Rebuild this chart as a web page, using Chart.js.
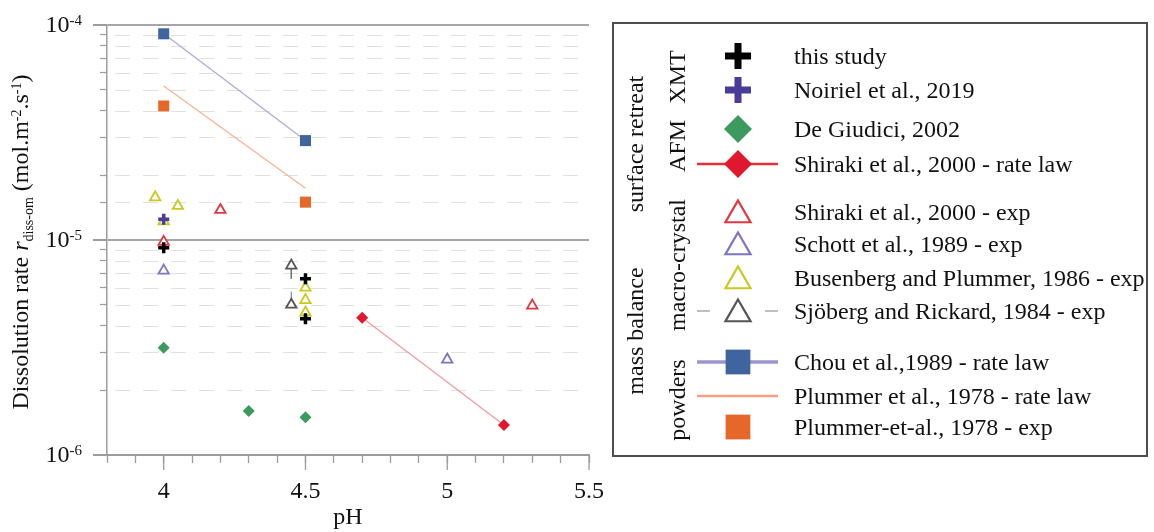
<!DOCTYPE html>
<html>
<head>
<meta charset="utf-8">
<script src="https://cdn.jsdelivr.net/npm/chart.js@4/dist/chart.umd.min.js"></script>
<style>
  html, body { margin: 0; padding: 0; background: #fff; }
  #wrap { position: relative; width: 1154px; height: 532px; overflow: hidden;
          font-family: 'Liberation Serif', 'Times New Roman', serif; color: #111; }
  #chart { position: absolute; left: 0; top: 0; }
  #legendBox { position: absolute; left: 612px; top: 22px; width: 536px; height: 435px;
               box-sizing: border-box; border: 2px solid #4d4d4d; }
  #legendMarks { position: absolute; left: 688px; top: 24px; }
  .lg-text { position: absolute; left: 794px; height: 28px; line-height: 28px; font-size: 24px;
             white-space: nowrap; }
  .lg-group { position: absolute; font-size: 24px; line-height: 28px; white-space: nowrap;
              transform: translate(-50%, -50%) rotate(-90deg); }
</style>
</head>
<body>
<div id="wrap">
  <canvas id="chart" width="1154" height="532"></canvas>
  <div id="legendBox"></div>
  <canvas id="legendMarks" width="100" height="432"></canvas>
</div>
<script>
// ---- axes ----
const phTicks = [3.8, 3.9, 4.0, 4.1, 4.2, 4.3, 4.4, 4.5, 4.6, 4.7, 4.8, 4.9, 5.0, 5.1, 5.2, 5.3, 5.4, 5.5];
const phLabelValues = [4, 4.5, 5, 5.5];
const phLabels = ['4', '4.5', '5', '5.5'];
const rateDecades = [1e-6, 1e-5, 1e-4];
const rateDecadeExponents = ['-6', '-5', '-4'];

// ---- series: pH and dissolution rate (mol.m-2.s-1) ----
const thisStudyPH = [4.0, 4.5, 4.5];
const thisStudyRate = [9.2e-6, 6.6e-6, 4.3e-6];

const noirielPH = [4.0];
const noirielRate = [1.25e-5];

const deGiudiciPH = [4.0, 4.3, 4.5];
const deGiudiciRate = [3.15e-6, 1.6e-6, 1.5e-6];

const shirakiLawPH = [4.7, 5.2];
const shirakiLawRate = [4.35e-6, 1.38e-6];

const shirakiExpPH = [4.0, 4.2, 5.3];
const shirakiExpRate = [9.8e-6, 1.38e-5, 4.95e-6];

const schottPH = [4.0, 5.0];
const schottRate = [7.2e-6, 2.78e-6];

const busenbergPH = [3.97, 4.05, 4.0, 4.5, 4.5, 4.5];
const busenbergRate = [1.58e-5, 1.44e-5, 1.22e-5, 6.0e-6, 5.25e-6, 4.6e-6];

const sjobergPH = [4.45, 4.45];
const sjobergRate = [7.6e-6, 5.0e-6];
const sjobergErrMinus = [1.0e-6, 0];
const sjobergErrPlus = [0, 0.75e-6];

const chouPH = [4.0, 4.5];
const chouRate = [9.1e-5, 2.9e-5];

const plummerLawPH = [4.0, 4.5];
const plummerLawRate = [5.2e-5, 1.74e-5];

const plummerExpPH = [4.0, 4.5];
const plummerExpRate = [4.2e-5, 1.5e-5];

const seriesNames = [
  'this study',
  'Noiriel et al., 2019',
  'De Giudici, 2002',
  'Shiraki et al., 2000 - rate law',
  'Shiraki et al., 2000 - exp',
  'Schott et al., 1989 - exp',
  'Busenberg and Plummer, 1986 - exp',
  'Sjöberg and Rickard, 1984 - exp',
  'Chou et al.,1989 - rate law',
  'Plummer et al., 1978 - rate law',
  'Plummer-et-al., 1978 - exp'
];

const groupLabels = ['surface retreat', 'XMT', 'AFM', 'macro-crystal', 'mass balance', 'powders'];

// ---- styling ----
const FONT = "'Liberation Serif', 'Times New Roman', serif";
const axisGray = '#9c9c9c';

const pts = (xs, ys) => xs.map((x, i) => ({ x: x, y: ys[i] }));

// one entry per legend row, in legend order
const styles = [
  { pts: pts(thisStudyPH, thisStudyRate), shape: 'cross', color: '#000000' },
  { pts: pts(noirielPH, noirielRate), shape: 'cross', color: '#4a3d99' },
  { pts: pts(deGiudiciPH, deGiudiciRate), shape: 'rectRot', color: '#3c9a5f' },
  { pts: pts(shirakiLawPH, shirakiLawRate), shape: 'rectRot', color: '#e0182d', line: '#f29a9e', legendLine: '#e5303c' },
  { pts: pts(shirakiExpPH, shirakiExpRate), shape: 'triangle', color: '#e2373f' },
  { pts: pts(schottPH, schottRate), shape: 'triangle', color: '#7d74c4' },
  { pts: pts(busenbergPH, busenbergRate), shape: 'triangle', color: '#c9c91e' },
  { pts: pts(sjobergPH, sjobergRate), shape: 'triangle', color: '#555555', errorBar: true },
  { pts: pts(chouPH, chouRate), shape: 'rect', color: '#40659e', line: '#aeaadb', legendLine: '#9b95cf' },
  { pts: pts(plummerLawPH, plummerLawRate), shape: null, color: '#f0a27c', line: '#f5b594', legendLine: '#f0a27c' },
  { pts: pts(plummerExpPH, plummerExpRate), shape: 'rect', color: '#e5672a' }
];

function pointOpts(shape, color) {
  if (shape === 'cross') return { pointStyle: 'cross', pointRadius: 5.5, pointBorderWidth: 3.5, pointBorderColor: color, pointBackgroundColor: color };
  if (shape === 'rectRot') return { pointStyle: 'rectRot', pointRadius: 6, pointBorderWidth: 0, pointBorderColor: color, pointBackgroundColor: color };
  if (shape === 'triangle') return { pointStyle: 'triangle', pointRadius: 6, pointBorderWidth: 1.8, pointBorderColor: color, pointBackgroundColor: '#ffffff' };
  if (shape === 'rect') return { pointStyle: 'rect', pointRadius: 7.8, pointBorderWidth: 0, pointBorderColor: color, pointBackgroundColor: color };
  return { pointRadius: 0 };
}

const datasets = [];
styles.forEach((s, i) => {
  datasets.push(Object.assign({
    label: seriesNames[i],
    data: s.pts,
    showLine: !!s.line,
    borderColor: s.line || s.color,
    borderWidth: s.line ? 1.3 : 0,
    backgroundColor: s.color
  }, pointOpts(s.shape, s.color)));
  if (s.errorBar) {
    // vertical error whiskers for this series
    sjobergPH.forEach((x, k) => {
      const y = sjobergRate[k];
      if (sjobergErrMinus[k] > 0) {
        datasets.push({ label: seriesNames[i] + ' error', data: [{ x: x, y: y }, { x: x, y: y - sjobergErrMinus[k] }],
          showLine: true, borderColor: '#707070', borderWidth: 1, pointRadius: 0 });
      }
      if (sjobergErrPlus[k] > 0) {
        datasets.push({ label: seriesNames[i] + ' error', data: [{ x: x, y: y }, { x: x, y: y + sjobergErrPlus[k] }],
          showLine: true, borderColor: '#707070', borderWidth: 1, pointRadius: 0 });
      }
    });
  }
});

const isDecade = v => Math.abs(Math.log10(v) - Math.round(Math.log10(v))) < 1e-6;

// y-axis title with italic symbol, subscript and superscripts
const yTitleParts = [
  { text: 'Dissolution rate ', kind: 'normal' },
  { text: 'r', kind: 'italic' },
  { text: 'diss-om', kind: 'sub' },
  { text: ' (mol.m', kind: 'normal' },
  { text: '-2', kind: 'sup' },
  { text: '.s', kind: 'normal' },
  { text: '-1', kind: 'sup' },
  { text: ')', kind: 'normal' }
];
function partFont(kind) {
  if (kind === 'italic') return 'italic 24px ' + FONT;
  if (kind === 'sub' || kind === 'sup') return '14px ' + FONT;
  return '24px ' + FONT;
}
function partShift(kind) {
  if (kind === 'sub') return 7;
  if (kind === 'sup') return -5;
  return 0;
}

const axisDecor = {
  id: 'axisDecor',
  beforeDatasetsDraw(chart) {
    const { ctx, chartArea: a, scales: { y } } = chart;
    ctx.save();
    ctx.strokeStyle = '#e0e0e0';
    ctx.lineWidth = 1;
    ctx.setLineDash([15, 13]);
    y.ticks.forEach(t => {
      if (isDecade(t.value)) return;
      const py = Math.round(y.getPixelForValue(t.value)) + 0.5;
      ctx.beginPath();
      ctx.moveTo(a.left + 8, py);
      ctx.lineTo(a.right, py);
      ctx.stroke();
    });
    ctx.restore();
  },
  afterDraw(chart) {
    const { ctx, chartArea: a, scales: { x, y } } = chart;
    ctx.save();
    ctx.strokeStyle = axisGray;
    // longer ticks at decades and labelled pH values
    ctx.lineWidth = 2;
    rateDecades.forEach(v => {
      const py = y.getPixelForValue(v);
      ctx.beginPath(); ctx.moveTo(a.left - 14, py); ctx.lineTo(a.left, py); ctx.stroke();
    });
    ctx.lineWidth = 1.3;
    phLabelValues.forEach(v => {
      const px = x.getPixelForValue(v);
      ctx.beginPath(); ctx.moveTo(px, a.bottom); ctx.lineTo(px, a.bottom + 15); ctx.stroke();
    });
    // decade labels 10^n
    ctx.fillStyle = '#111';
    ctx.textBaseline = 'middle';
    rateDecades.forEach((v, i) => {
      const py = y.getPixelForValue(v);
      ctx.font = '15px ' + FONT;
      const supW = ctx.measureText(rateDecadeExponents[i]).width;
      const right = a.left - 25;
      ctx.textAlign = 'left';
      ctx.fillText(rateDecadeExponents[i], right - supW, py - 4);
      ctx.font = '24px ' + FONT;
      ctx.textAlign = 'right';
      ctx.fillText('10', right - supW, py + 1);
    });
    // rotated y title
    let total = 0;
    yTitleParts.forEach(p => { ctx.font = partFont(p.kind); total += ctx.measureText(p.text).width; });
    ctx.translate(22, (a.top + a.bottom) / 2 + 2);
    ctx.rotate(-Math.PI / 2);
    ctx.textAlign = 'left';
    let cx = -total / 2;
    yTitleParts.forEach(p => {
      ctx.font = partFont(p.kind);
      ctx.fillText(p.text, cx, partShift(p.kind));
      cx += ctx.measureText(p.text).width;
    });
    ctx.restore();
  }
};

new Chart(document.getElementById('chart'), {
  type: 'scatter',
  data: { datasets: datasets },
  options: {
    responsive: false,
    animation: false,
    events: [],
    layout: { padding: { left: 0, top: 25, right: 565, bottom: 0 } },
    plugins: { legend: { display: false }, tooltip: { enabled: false } },
    scales: {
      x: {
        type: 'linear',
        min: 3.8,
        max: 5.5,
        afterBuildTicks: s => { s.ticks = phTicks.map(v => ({ value: v })); },
        afterFit: s => { s.height = 77; },
        border: { display: true, color: axisGray, width: 2 },
        grid: { display: true, drawOnChartArea: false, drawTicks: true, tickLength: 8,
                tickColor: axisGray, tickWidth: 1.3, color: axisGray },
        ticks: {
          autoSkip: false, maxRotation: 0, padding: 14, color: '#111',
          font: { family: FONT, size: 24 },
          callback: v => {
            const k = phLabelValues.findIndex(p => Math.abs(p - v) < 1e-6);
            return k >= 0 ? phLabels[k] : '';
          }
        },
        title: { display: true, text: 'pH', color: '#111', font: { family: FONT, size: 24 },
                 padding: { top: 0, bottom: 0 } }
      },
      y: {
        type: 'logarithmic',
        min: 1e-6,
        max: 1e-4,
        afterFit: s => { s.width = 107; },
        border: { display: true, color: axisGray, width: 1.5 },
        grid: {
          drawTicks: true, tickLength: 7, tickColor: axisGray, tickWidth: 1.2,
          color: c => (c.tick && isDecade(c.tick.value)) ? '#a6a6a6' : 'rgba(0,0,0,0)',
          lineWidth: c => (c.tick && isDecade(c.tick.value)) ? 2 : 1
        },
        ticks: { display: false }
      }
    }
  },
  plugins: [axisDecor]
});

// ---- legend ----
const wrap = document.getElementById('wrap');
const rowY = [56, 90, 129, 164, 212, 244, 278, 311, 362, 396, 427];
seriesNames.forEach((name, i) => {
  const d = document.createElement('div');
  d.className = 'lg-text';
  d.style.top = (rowY[i] - 14) + 'px';
  d.textContent = name;
  wrap.appendChild(d);
});
const groupPos = [[635, 144], [677, 77], [677, 146], [677, 265], [635, 331], [677, 400]];
groupLabels.forEach((g, i) => {
  const d = document.createElement('div');
  d.className = 'lg-group';
  d.style.left = groupPos[i][0] + 'px';
  d.style.top = groupPos[i][1] + 'px';
  d.textContent = g;
  wrap.appendChild(d);
});

const lc = document.getElementById('legendMarks');
const lctx = lc.getContext('2d');
const mx = 50, oy = 24;
styles.forEach((s, i) => {
  const cy = rowY[i] - oy;
  lctx.save();
  if (s.legendLine) {
    lctx.strokeStyle = s.legendLine;
    lctx.lineWidth = s.shape === 'rect' ? 3.5 : 2.4;
    lctx.beginPath(); lctx.moveTo(mx - 41, cy); lctx.lineTo(mx + 40, cy); lctx.stroke();
  }
  if (s.errorBar) {
    lctx.strokeStyle = '#ababab';
    lctx.lineWidth = 1.5;
    lctx.beginPath(); lctx.moveTo(mx - 41, cy); lctx.lineTo(mx - 28, cy); lctx.stroke();
    lctx.beginPath(); lctx.moveTo(mx + 27, cy); lctx.lineTo(mx + 40, cy); lctx.stroke();
  }
  if (s.shape) {
    let opts, yy = cy;
    if (s.shape === 'cross') { opts = { pointStyle: 'cross', radius: 13, borderWidth: 7 }; lctx.fillStyle = s.color; lctx.strokeStyle = s.color; }
    else if (s.shape === 'rectRot') { opts = { pointStyle: 'rectRot', radius: 14, borderWidth: 0 }; lctx.fillStyle = s.color; lctx.strokeStyle = s.color; }
    else if (s.shape === 'triangle') { opts = { pointStyle: 'triangle', radius: 14.5, borderWidth: 2.2 }; lctx.fillStyle = '#ffffff'; lctx.strokeStyle = s.color; yy = cy + 3; }
    else { opts = { pointStyle: 'rect', radius: 17.5, borderWidth: 0 }; lctx.fillStyle = s.color; lctx.strokeStyle = s.color; }
    lctx.lineWidth = opts.borderWidth;
    Chart.helpers.drawPoint(lctx, Object.assign({ rotation: 0 }, opts), mx, yy);
  }
  lctx.restore();
});
</script>
</body>
</html>
